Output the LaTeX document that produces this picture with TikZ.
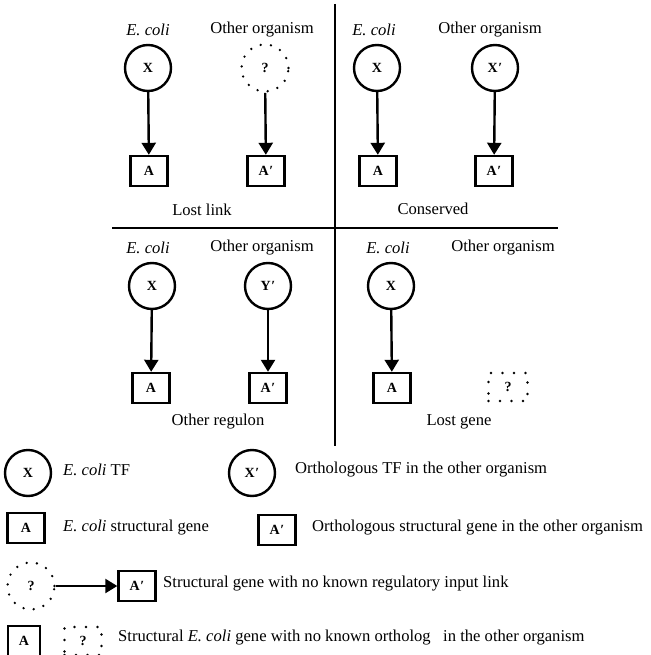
\documentclass[tikz,border=0pt]{standalone}
\usepackage{fontspec}
\setmainfont{Liberation Serif}
\usetikzlibrary{arrows.meta}
\begin{document}
\begin{tikzpicture}[x=1pt,y=-1pt,
  nodefont/.style={font=\fontsize{14}{16}\selectfont\bfseries},
  tf/.style={circle,draw,line width=2.4pt,minimum size=46pt,inner sep=0pt,nodefont},
  qtf/.style={circle,draw,line width=2.6pt,line cap=round,dash pattern=on 0pt off 10.3pt,minimum size=47pt,inner sep=0pt,nodefont},
  gene/.style={rectangle,draw,line width=2.4pt,minimum width=37pt,minimum height=30pt,inner sep=0pt,nodefont},
  qgene/.style={rectangle,draw,line width=2.6pt,line cap=round,dash pattern=on 0pt off 11.5pt,minimum width=39pt,minimum height=28pt,inner sep=0pt,nodefont},
  lbl/.style={font=\fontsize{16.6}{19}\selectfont,inner sep=0pt},
  link/.style={line width=2.4pt,-{Triangle[length=12pt,width=14pt]}},
  rulefig/.style={line width=1.2pt}]
\useasboundingbox (0,0) rectangle (650,655);
\newcommand{\pr}{\kern0.5pt′}
% dividers
\coordinate (hl) at (112,228);
\coordinate (hr) at (558,228);
\coordinate (vt) at (335,4);
\coordinate (vb) at (335,446);
\draw[rulefig] (hl) -- (hr);
\draw[rulefig] (vt) -- (vb);
% top-left: lost link
\node[lbl] (tlE) at (148,30) {\textit{E. coli}};
\node[lbl] (tlO) at (262,30) {Other organism};
\node[tf] (tlX) at (148,68) {X};
\node[qtf] (tlQ) at (265,68) {?};
\node[gene] (tlA) at (149,171) {A};
\node[gene] (tlAp) at (266,171) {A\pr};
\draw[link] (tlX) -- (tlA);
\draw[link] (tlQ) -- (tlAp);
\node[lbl] (tlT) at (202,210) {Lost link};
% top-right: conserved
\node[lbl] (trE) at (374,30) {\textit{E. coli}};
\node[lbl] (trO) at (490,30) {Other organism};
\node[tf] (trX) at (377,68) {X};
\node[tf] (trXp) at (495,68) {X\pr};
\node[gene] (trA) at (378,171) {A};
\node[gene] (trAp) at (494,171) {A\pr};
\draw[link] (trX) -- (trA);
\draw[link] (trXp) -- (trAp);
\node[lbl] (trT) at (433,209) {Conserved};
% bottom-left: other regulon
\node[lbl] (blE) at (148,248) {\textit{E. coli}};
\node[lbl] (blO) at (262,248) {Other organism};
\node[tf] (blX) at (152,286) {X};
\node[tf] (blYp) at (268,286) {Y\pr};
\node[gene] (blA) at (151,388) {A};
\node[gene] (blAp) at (268,388) {A\pr};
\draw[link] (blX) -- (blA);
\draw[link] (blYp) -- (blAp);
\node[lbl] (blT) at (218,422) {Other regulon};
% bottom-right: lost gene
\node[lbl] (brE) at (388,248) {\textit{E. coli}};
\node[lbl] (brO) at (503,248) {Other organism};
\node[tf] (brX) at (391,286) {X};
\node[gene] (brA) at (392,388) {A};
\node[qgene] (brQ) at (508,387) {?};
\draw[link] (brX) -- (brA);
\node[lbl] (brT) at (459,422) {Lost gene};
% legend
\node[tf] (lgX) at (28,473) {X};
\node[lbl,anchor=west] (lgXt) at (63,470) {\textit{E. coli} TF};
\node[tf] (lgXp) at (252,473) {X\pr};
\node[lbl,anchor=west] (lgXpt) at (295,470) {Orthologous TF in the other organism};
\node[gene] (lgA) at (26,528) {A};
\node[lbl,anchor=west] (lgAt) at (63,528) {\textit{E. coli} structural gene};
\node[gene] (lgAp) at (277,530) {A\pr};
\node[lbl,anchor=west] (lgApt) at (312,528) {Orthologous structural gene in the other organism};
\node[qtf] (lgQ) at (31,586) {?};
\node[gene] (lgQA) at (137,586) {A\pr};
\draw[link] (lgQ) -- (lgQA);
\node[lbl,anchor=west] (lgQt) at (163,584) {Structural gene with no known regulatory input link};
\node[gene,minimum width=32pt] (lgB) at (24,641) {A};
\node[qgene,minimum width=37pt] (lgBQ) at (83,641) {?};
\node[lbl,anchor=west] (lgBt) at (118,638) {Structural \textit{E. coli} gene with no known ortholog\ \ \ in the other organism};
\end{tikzpicture}
\end{document}
